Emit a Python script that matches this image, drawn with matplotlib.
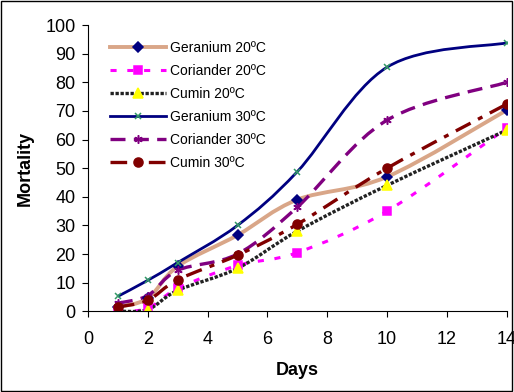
import numpy as np
import matplotlib.pyplot as plt
from matplotlib.path import Path
from matplotlib.patches import PathPatch, Rectangle

plt.rcParams['font.family'] = ['Liberation Sans', 'DejaVu Sans']

days = [1, 2, 3, 5, 7, 10, 14]
geranium_20 = [1.5, 4.5, 15.7, 26.6, 39, 47, 70.3]
coriander_20 = [0, 1, 8, 16, 20.5, 35, 64]
cumin_20 = [0, 0.6, 7.3, 15, 28, 44, 63.3]
geranium_30 = [5.2, 10.8, 17, 30, 48.8, 85.3, 93.8]
coriander_30 = [2.8, 5.5, 14.3, 20, 36.4, 66.8, 80]
cumin_30 = [1.5, 3.8, 11, 19.6, 30.4, 50, 72.4]


def smooth_path(x, y):
    # Excel style smoothed line: Catmull-Rom segments as cubic bezier
    x = np.asarray(x, float)
    y = np.asarray(y, float)
    verts = [(x[0], y[0])]
    codes = [Path.MOVETO]
    n = len(x)
    for i in range(n - 1):
        i0 = max(i - 1, 0)
        i3 = min(i + 2, n - 1)
        c1 = (x[i] + (x[i + 1] - x[i0]) / 6, y[i] + (y[i + 1] - y[i0]) / 6)
        c2 = (x[i + 1] - (x[i3] - x[i]) / 6, y[i + 1] - (y[i3] - y[i]) / 6)
        verts += [c1, c2, (x[i + 1], y[i + 1])]
        codes += [Path.CURVE4] * 3
    return Path(verts, codes)


fig = plt.figure(figsize=(5.14, 3.92), dpi=100)
ax = fig.add_axes([0.171, 0.206, 0.815, 0.730])

series = [
    ('Geranium 20ºC', geranium_20, '#D9A688', '-', 2.8, 'D', '#000080', '#000080', 5),
    ('Coriander 20ºC', coriander_20, '#FF00FF', (0, (2, 3.5)), 2.2, 's', '#FF00FF', '#FF00FF', 6),
    ('Cumin 20ºC', cumin_20, '#222222', (0, (1, 0.5)), 2.4, '^', '#FFFF00', '#FFFF00', 7),
    ('Geranium 30ºC', geranium_30, '#000080', '-', 2.0, 'x', '#339966', '#339966', 5),
    ('Coriander 30ºC', coriander_30, '#800080', (0, (4.5, 2.5)), 2.4, (6, 2, 0), '#800080', '#800080', 6),
    ('Cumin 30ºC', cumin_30, '#800000', (0, (5, 2.5, 1.5, 2.5)), 2.4, 'o', '#800000', '#800000', 6.5),
]

for label, vals, col, ls, lw, mk, mfc, mec, ms in series:
    patch = PathPatch(smooth_path(days, vals), facecolor='none', edgecolor=col,
                      linestyle=ls, linewidth=lw, capstyle='butt')
    ax.add_patch(patch)
    ax.plot(days, vals, linestyle='none', marker=mk, markerfacecolor=mfc,
            markeredgecolor=mec, markersize=ms, markeredgewidth=1.1)
    # proxy for the legend
    ax.plot([], [], color=col, linestyle=ls, linewidth=lw, marker=mk,
            markerfacecolor=mfc, markeredgecolor=mec, markersize=ms,
            markeredgewidth=1.1, label=label)

ax.set_xlim(0, 14)
ax.set_ylim(0, 100)
ax.set_xticks(range(0, 15, 2))
ax.set_yticks(range(0, 101, 10))
ax.spines['top'].set_visible(False)
ax.spines['right'].set_visible(False)
ax.tick_params(direction='out', length=4, labelsize=13)
ax.tick_params(axis='x', pad=10)
ax.tick_params(axis='y', pad=5)
ax.set_xlabel('Days', fontsize=13, fontweight='bold', labelpad=10)
ax.set_ylabel('Mortality', fontsize=13, fontweight='bold', labelpad=8)

ax.legend(loc='upper left', bbox_to_anchor=(0.03, 0.98), frameon=False,
          fontsize=10, handlelength=4.0, handletextpad=0.3, labelspacing=0.65,
          borderaxespad=0.3)

fig.add_artist(Rectangle((0.002, 0.003), 0.994, 0.994, transform=fig.transFigure,
                         fill=False, edgecolor='black', linewidth=1))

fig.savefig('out.png', dpi=100)
